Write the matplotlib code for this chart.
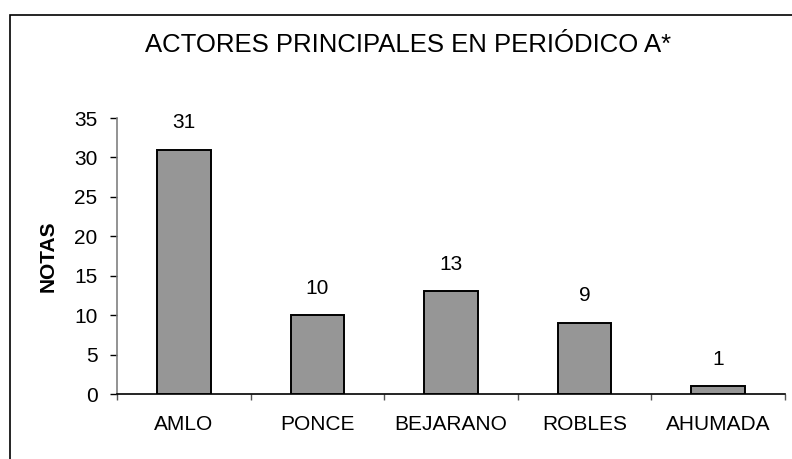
import matplotlib.pyplot as plt
from matplotlib.patches import Rectangle

plt.rcParams['font.family'] = ['Liberation Sans', 'DejaVu Sans']

actores = ['AMLO', 'PONCE', 'BEJARANO', 'ROBLES', 'AHUMADA']
notas = [31, 10, 13, 9, 1]
yticks = [0, 5, 10, 15, 20, 25, 30, 35]

fig = plt.figure(figsize=(7.92, 4.59), dpi=100, facecolor='white')

# marco exterior (el borde inferior y derecho quedan fuera de la imagen)
fig.patches.append(Rectangle((10/792, -0.1), 1.2, 1 - 15/459 + 0.1, transform=fig.transFigure,
                             fill=False, edgecolor='black', linewidth=1.2))

ax = fig.add_axes([117/792, 1 - 394/459, (785 - 117)/792, (394 - 118)/459])
x = range(len(actores))
ax.bar(x, notas, width=0.40, color='#969696', edgecolor='black', linewidth=1.4, zorder=3)

for xi, v in zip(x, notas):
    ax.annotate(str(v), (xi, v), xytext=(0, 19.5), textcoords='offset points',
                ha='center', va='center', fontsize=15)

ax.set_xlim(-0.5, len(actores) - 0.5)
ax.set_ylim(0, 35)
ax.set_yticks(yticks)
ax.set_xticks(list(x))
ax.set_xticklabels(actores, fontsize=15)
ax.set_xticks([i - 0.5 for i in range(len(actores) + 1)], minor=True)
ax.tick_params(axis='x', which='major', length=0, pad=15)
ax.tick_params(axis='x', which='minor', length=4, width=1, color='#555555')
ax.tick_params(axis='y', length=5, width=1, labelsize=15, pad=9)

for s in ['top', 'right']:
    ax.spines[s].set_visible(False)
ax.spines['left'].set_color('#808080')
ax.spines['left'].set_linewidth(1.2)
ax.spines['bottom'].set_linewidth(1.2)

ax.set_ylabel('NOTAS', fontsize=15, fontweight='bold', labelpad=12)

fig.text(408/792, 1 - 45.5/459, 'ACTORES PRINCIPALES EN PERIÓDICO A*',
         ha='center', va='center', fontsize=18.5)

fig.savefig('out.png', dpi=100)
